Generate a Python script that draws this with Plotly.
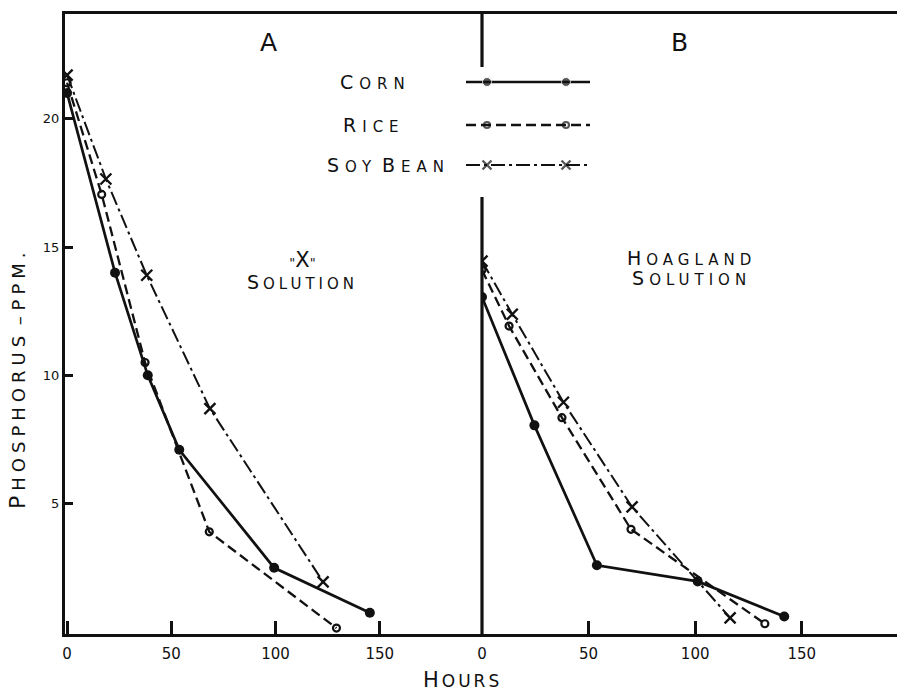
import plotly.graph_objects as go

# ---------------- data ----------------
hours_label_vals = [0, 50, 100, 150]
hours_label_text = ["0", "50", "100", "150"]
ppm_ticks = [5, 10, 15, 20]

a_corn_h = [0, 23, 38.7, 53.8, 99.3, 145.2]
a_corn_p = [21.0, 14.0, 10.0, 7.1, 2.5, 0.75]
a_rice_h = [0, 16.6, 37.4, 68.2, 129.2]
a_rice_p = [21.4, 17.05, 10.5, 3.9, 0.15]
a_soy_h = [0, 18.6, 38.2, 68.5, 122.8]
a_soy_p = [21.7, 17.65, 13.9, 8.7, 1.95]

b_corn_h = [0, 24.6, 53.9, 101.2, 141.8]
b_corn_p = [13.05, 8.05, 2.6, 1.97, 0.6]
b_rice_h = [0, 12.7, 37.5, 69.9, 132.7]
b_rice_p = [14.1, 11.92, 8.35, 4.0, 0.32]
b_soy_h = [0, 14.2, 38.2, 70.4, 116.4]
b_soy_p = [14.45, 12.38, 8.95, 4.87, 0.55]

series_names = ["CORN", "RICE", "SOY BEAN"]

# ---------------- geometry ----------------
W, H = 897, 694
L, R, T, B = 65, 0, 14, 60
PW = W - L - R
PH = H - T - B
SPLIT = (482 - L) / PW

FONT = "DejaVu Sans"
INK = "#111111"


def px(x, y):
    return (x - L) / PW, (H - B - y) / PH


def sc(word, big=20, small=15, ls=3):
    return (f"<span style='font-size:{big}px;letter-spacing:{ls}px'>{word[0]}</span>"
            f"<span style='font-size:{small}px;letter-spacing:{ls}px'>{word[1:]}</span>")


styles = {
    "CORN": dict(line=dict(color=INK, width=2.7, dash="solid"),
                 marker=dict(symbol="circle", size=10, color=INK)),
    "RICE": dict(line=dict(color=INK, width=2.3, dash="10px,5px"),
                 marker=dict(symbol="circle-open", size=7, color=INK, line=dict(width=2.2, color=INK))),
    "SOY BEAN": dict(line=dict(color=INK, width=2.0, dash="14px,4px,3px,4px"),
                     marker=dict(symbol="x-thin-open", size=11, color=INK, line=dict(width=2.4, color=INK))),
}

fig = go.Figure()

panel_a = [(a_corn_h, a_corn_p), (a_rice_h, a_rice_p), (a_soy_h, a_soy_p)]
panel_b = [(b_corn_h, b_corn_p), (b_rice_h, b_rice_p), (b_soy_h, b_soy_p)]

for name, (hx, py) in zip(series_names, panel_a):
    st = styles[name]
    fig.add_trace(go.Scatter(x=hx, y=py, mode="lines+markers", name=name,
                             line=st["line"], marker=st["marker"],
                             xaxis="x", yaxis="y", showlegend=False))
for name, (hx, py) in zip(series_names, panel_b):
    st = styles[name]
    fig.add_trace(go.Scatter(x=hx, y=py, mode="lines+markers", name=name,
                             line=st["line"], marker=st["marker"],
                             xaxis="x2", yaxis="y2", showlegend=False))

# custom legend drawn on a pixel-space overlay axis
legend_rows = {"CORN": 82, "RICE": 125, "SOY BEAN": 165}
legend_msize = {"CORN": 9, "RICE": 6, "SOY BEAN": 9}
for name in series_names:
    yy = legend_rows[name]
    st = styles[name]
    mk = dict(st["marker"])
    s = legend_msize[name]
    mk["size"] = [0, s, s, 0]
    fig.add_trace(go.Scatter(x=[466, 487, 566, 590], y=[yy] * 4, mode="lines+markers",
                             line=st["line"], marker=mk, xaxis="x3", yaxis="y3",
                             showlegend=False, hoverinfo="skip"))

axis_common = dict(showgrid=False, zeroline=False, showline=True, linecolor=INK,
                   linewidth=3, ticks="inside", tickcolor=INK, tickwidth=2.6,
                   tickfont=dict(family=FONT, size=15, color=INK))

fig.update_layout(
    width=W, height=H,
    margin=dict(l=L, r=R, t=T, b=B),
    paper_bgcolor="white", plot_bgcolor="rgba(0,0,0,0)",
    font=dict(family=FONT, color=INK),
    xaxis=dict(axis_common, domain=[0, SPLIT], range=[-1, 199], anchor="y",
               tickvals=hours_label_vals, ticktext=hours_label_text, ticklen=13, mirror=True,
               ticklabelstandoff=4),
    xaxis2=dict(axis_common, domain=[SPLIT, 1], range=[0, 194.7], anchor="y2",
                tickvals=hours_label_vals, ticktext=hours_label_text, ticklen=13, mirror=True,
                ticklabelstandoff=4),
    yaxis=dict(axis_common, domain=[0, 1], range=[-0.08, 24.08], anchor="x",
               tickvals=ppm_ticks, ticklen=8, tickfont=dict(family=FONT, size=13, color=INK)),
    yaxis2=dict(domain=[0, 1], range=[-0.08, 24.08], anchor="x2", matches="y",
                showline=False, showgrid=False, zeroline=False, showticklabels=False, ticks=""),
    xaxis3=dict(domain=[0, 1], range=[L, W - R], anchor="y3", visible=False),
    yaxis3=dict(domain=[0, 1], range=[H - B, T], anchor="x3", visible=False),
    showlegend=False,
)

# divider between panels (two segments), drawn in paper space so it is not clipped
for y0, y1 in [(14, 67), (197, H - B)]:
    fig.add_shape(type="line", xref="paper", yref="paper", x0=SPLIT, x1=SPLIT,
                  y0=px(0, y0)[1], y1=px(0, y1)[1],
                  line=dict(color=INK, width=3.2), layer="above")


def ann(text, x, y, size=15, angle=0):
    ax, ay = px(x, y)
    fig.add_annotation(text=text, x=ax, y=ay, xref="paper", yref="paper",
                       showarrow=False, textangle=angle, xanchor="center", yanchor="middle",
                       font=dict(family=FONT, size=size, color=INK))


ann("A", 268, 43, size=25)
ann("B", 679, 43, size=25)
for name in series_names:
    words = name.split(" ")
    txt = " ".join(sc(w, big=19, small=15, ls=6) for w in words)
    cx = {"CORN": 375, "RICE": 374, "SOY BEAN": 388}[name]
    ann(txt, cx, legend_rows[name], size=15)

ann("<span style='font-size:13px'>\"</span><span style='font-size:21px'>X</span>"
    "<span style='font-size:13px'>\"</span><br>" + sc("SOLUTION", big=19, small=15, ls=4),
    302, 270, size=17)
ann(sc("HOAGLAND", big=19, small=15, ls=5) + "<br>" + sc("SOLUTION", big=19, small=15, ls=5),
    691, 268, size=15)

ann(sc("HOURS", big=21, small=17, ls=3), 462, 680, size=17)
ann(sc("PHOSPHORUS", big=22, small=18, ls=5) + "<span style='font-size:18px'> – </span>"
    + sc("PPM.", big=18, small=18, ls=5), 17, 378, size=18, angle=-90)

fig.write_html("out.html", config={"displayModeBar": False},
               post_script="document.body.style.margin='0px';document.body.style.overflow='hidden';")
